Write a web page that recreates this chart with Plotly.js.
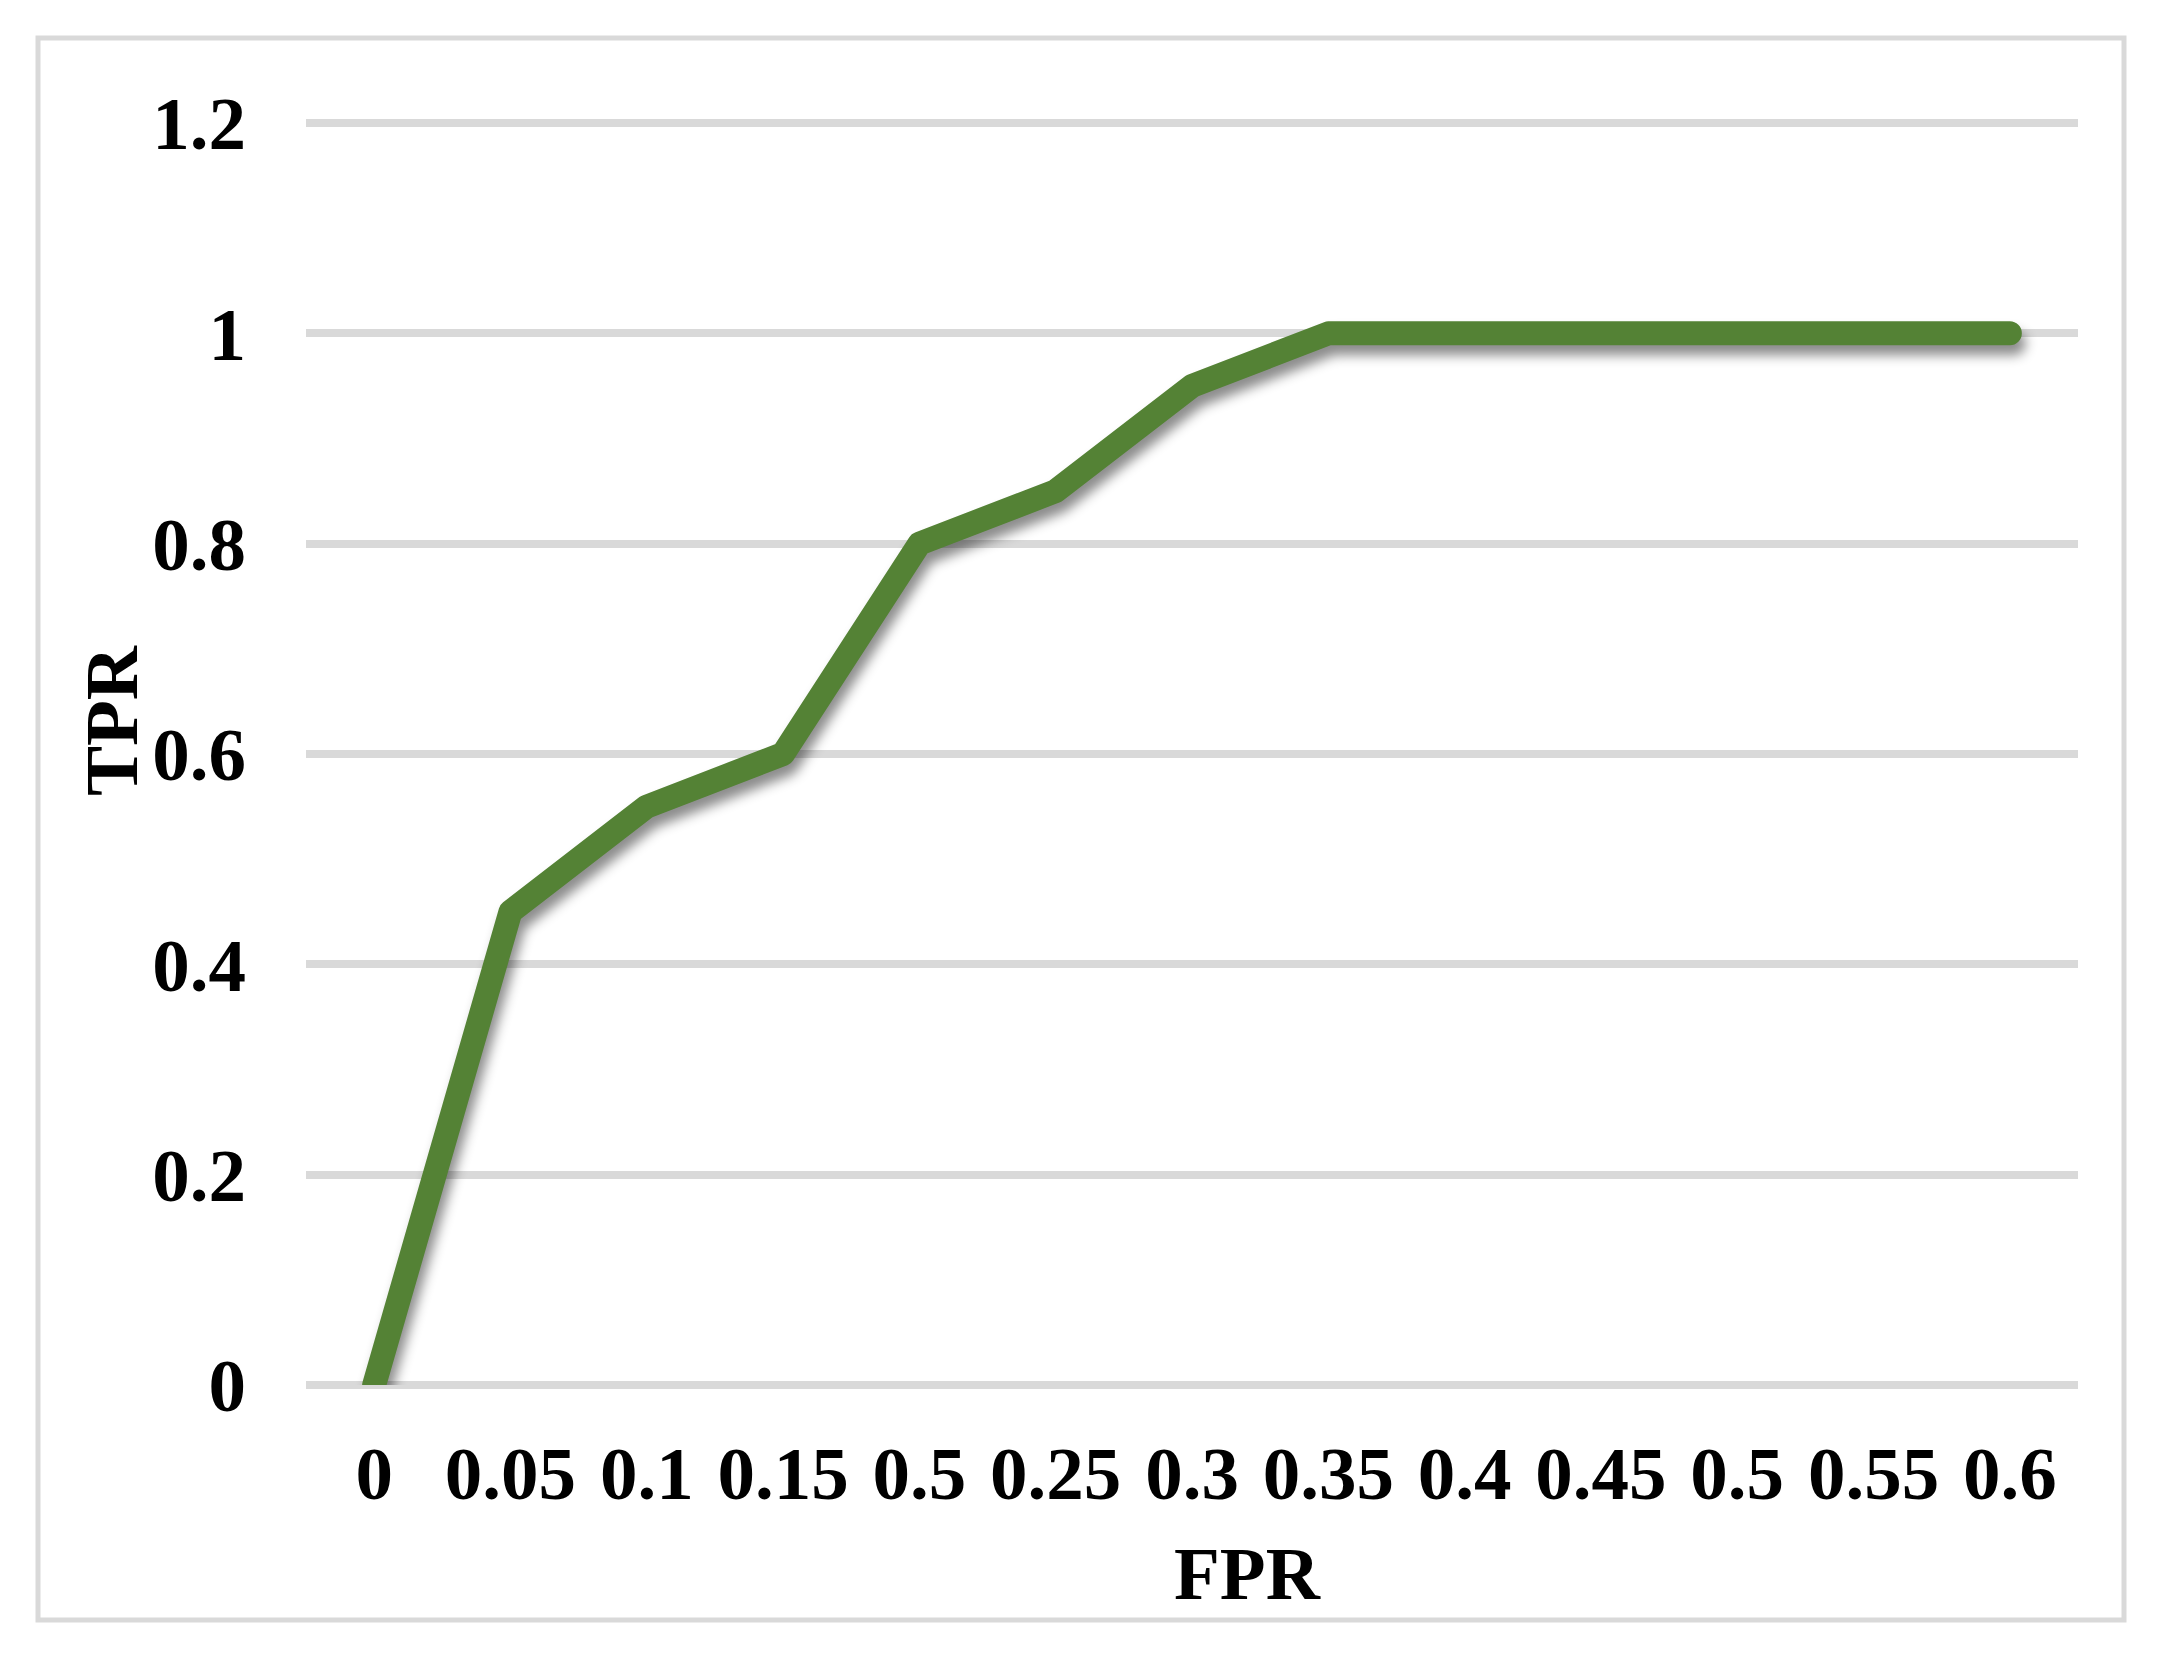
<!DOCTYPE html>
<html>
<head>
<meta charset="utf-8">
<script src="https://cdn.plot.ly/plotly-3.0.1.min.js"></script>
<style>
  html, body { margin: 0; padding: 0; background: #ffffff; }
  #chart { width: 2171px; height: 1662px; }
</style>
</head>
<body>
<div id="chart"></div>
<script>
// ---- data ----
const fprLabels = ["0", "0.05", "0.1", "0.15", "0.5", "0.25", "0.3", "0.35", "0.4", "0.45", "0.5", "0.55", "0.6"];
const tprValues = [0, 0.45, 0.55, 0.6, 0.8, 0.85, 0.95, 1, 1, 1, 1, 1, 1];
const yTickVals = [0, 0.2, 0.4, 0.6, 0.8, 1, 1.2];
const yTickText = ["0", "0.2", "0.4", "0.6", "0.8", "1", "1.2"];
const xTitle = "FPR";
const yTitle = "TPR";

// category positions (labels repeat, so positions are indices)
const xPos = fprLabels.map((_, i) => i);

const FONT = "Liberation Serif, Times New Roman, serif";
const GRID = "#d9d9d9";
const GREEN = "#548235";

const trace = {
  type: "scatter",
  mode: "lines",
  x: xPos,
  y: tprValues,
  line: { color: GREEN, width: 24, shape: "linear" },
  hoverinfo: "x+y",
  showlegend: false
};

// plot box: left 306, right 2078, y=0 at 1385, y=1.2 at 123
const PL = 306, PR = 2078, PB = 1385, PT = 117;
const PW = PR - PL, PH = PB - PT;

const layout = {
  width: 2171,
  height: 1662,
  margin: { l: PL, r: 2171 - PR, t: PT, b: 1662 - PB, pad: 0 },
  paper_bgcolor: "#ffffff",
  plot_bgcolor: "#ffffff",
  showlegend: false,
  xaxis: {
    range: [-0.5, fprLabels.length - 0.5],
    tickmode: "array",
    tickvals: xPos,
    ticktext: fprLabels,
    tickangle: 0,
    showgrid: false,
    zeroline: false,
    showline: false,
    ticks: "",
    ticklabelstandoff: 38,
    tickfont: { family: FONT, size: 75, color: "#000000", weight: "bold" },
    fixedrange: true
  },
  yaxis: {
    range: [0, 1.2 * PH / 1262],
    tickmode: "array",
    tickvals: yTickVals,
    ticktext: yTickText,
    showgrid: true,
    gridcolor: GRID,
    gridwidth: 8,
    zeroline: true,
    zerolinecolor: GRID,
    zerolinewidth: 8,
    showline: false,
    ticks: "",
    ticklabelstandoff: 59,
    tickfont: { family: FONT, size: 75, color: "#000000", weight: "bold" },
    fixedrange: true
  },
  shapes: [
    {
      type: "rect", xref: "paper", yref: "paper",
      x0: (38 - PL) / PW, x1: (2124 - PL) / PW,
      y0: (PB - 1620) / PH, y1: (PB - 38) / PH,
      line: { color: GRID, width: 5 },
      fillcolor: "rgba(0,0,0,0)",
      layer: "below"
    }
  ],
  annotations: [
    {
      text: xTitle, xref: "paper", yref: "paper",
      x: (1247 - PL) / PW, y: (PB - 1573) / PH,
      xanchor: "center", yanchor: "middle", showarrow: false,
      font: { family: FONT, size: 75, color: "#000000", weight: "bold" }
    },
    {
      text: yTitle, xref: "paper", yref: "paper",
      x: (111 - PL) / PW, y: (PB - 721) / PH,
      xanchor: "center", yanchor: "middle", showarrow: false, textangle: -90,
      font: { family: FONT, size: 75, color: "#000000", weight: "bold" }
    }
  ]
};

Plotly.newPlot("chart", [trace], layout, { displayModeBar: false, staticPlot: true }).then(function (gd) {
  gd.querySelectorAll(".scatterlayer .trace path.js-line").forEach(function (p) {
    p.style.setProperty("stroke-linecap", "round");
    p.style.setProperty("stroke-linejoin", "round");
    p.style.setProperty("filter", "drop-shadow(4px 10px 6px rgba(0,0,0,0.45))");
  });
});
</script>
</body>
</html>
